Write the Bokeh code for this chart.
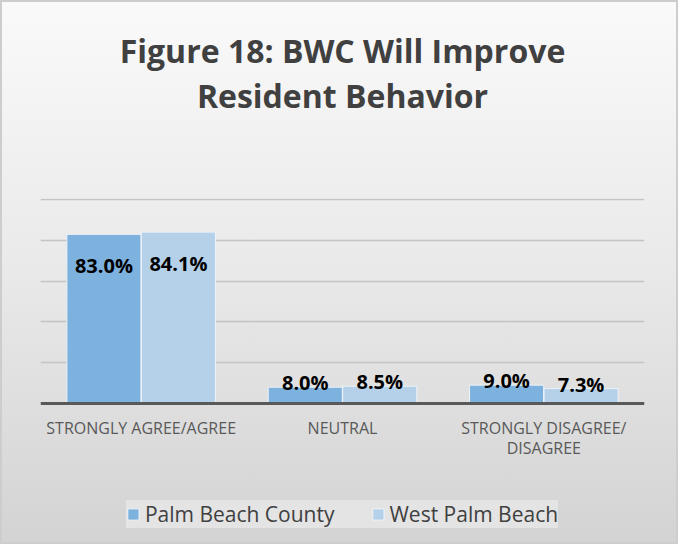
from bokeh.plotting import figure
from bokeh.models import FactorRange, Range1d, ColumnDataSource, FixedTicker, Legend, LegendItem, Title, Span
from bokeh.transform import dodge
from bokeh.core.properties import value
from bokeh.embed import file_html
from bokeh.resources import INLINE

# ---- data ----
categories = ["STRONGLY AGREE/AGREE", "NEUTRAL", "STRONGLY DISAGREE/\nDISAGREE"]
series_names = ["Palm Beach County", "West Palm Beach"]
palm_beach_county = [83.0, 8.0, 9.0]
west_palm_beach = [84.1, 8.5, 7.3]
y_ticks = [20, 40, 60, 80, 100]
title_lines = ["Figure 18: BWC Will Improve", "Resident Behavior"]

# ---- style / layout ----
colors = ["#7db1de", "#b5d1ea"]
offsets = [-0.185, 0.185]
bar_width = 0.368
FONT = "Open Sans"
Y_END = 100.6
PLOT_PX = 205          # pixels used by the 0..Y_END value area
FRAME_H = 346          # frame also holds the category labels and legend below 0
UNIT = PLOT_PX / Y_END
Y_START = -(FRAME_H - PLOT_PX) / UNIT

p = figure(
    x_range=FactorRange(*categories),
    y_range=Range1d(Y_START, Y_END),
    frame_width=604, frame_height=FRAME_H, title=None,
    output_backend="svg", toolbar_location=None,
    min_border_left=40, min_border_right=34,
    min_border_top=198, min_border_bottom=0,
)
p.border_fill_alpha = 0
p.background_fill_alpha = 0
p.outline_line_color = None
p.styles = {
    "background-image": "linear-gradient(to bottom, #fafafa 0%, #e9e9e9 50%, #d3d3d3 100%)",
    "box-shadow": "inset 0 0 0 2px #cdcdcd",
}

# titles: spacer closest to the frame, then line 2, then line 1
p.add_layout(Title(text=" ", text_font_size="63px"), "above")
for line in reversed(title_lines):
    p.add_layout(Title(text=line, align="center", text_font=FONT, text_font_style="bold",
                       text_font_size="32px", text_color="#404040", standoff=0), "above")

p.yaxis.visible = False
p.xaxis.visible = False
p.xgrid.grid_line_color = None
p.ygrid.ticker = FixedTicker(ticks=y_ticks)
p.ygrid.grid_line_color = "#c4c4c4"
p.ygrid.grid_line_width = 1.5

items = []
for name, vals, col, off in zip(series_names, [palm_beach_county, west_palm_beach], colors, offsets):
    label_y = [v - 31 / UNIT if v > 50 else v + 4.5 / UNIT for v in vals]
    src = ColumnDataSource(dict(
        cat=categories, val=vals, label_y=label_y,
        txt=[f"{v:.1f}%" for v in vals],
    ))
    r = p.vbar(x=dodge("cat", off, range=p.x_range), top="val", bottom=0, width=bar_width,
               source=src, fill_color=col, line_color="#eef3f8", line_width=1)
    p.text(x=dodge("cat", off, range=p.x_range), y="label_y", text="txt", source=src,
           text_font=value(FONT), text_font_style="bold", text_font_size="20px",
           text_color="#000000", text_align="center", text_baseline="middle")
    items.append(LegendItem(label=name, renderers=[r]))

# category axis: baseline and labels
p.add_layout(Span(location=0, dimension="width", line_color="#595959", line_width=3))
cat_src = ColumnDataSource(dict(cat=categories, y=[-13 / UNIT] * len(categories)))
p.text(x="cat", y="y", text="cat", source=cat_src,
       text_font=value(FONT), text_font_size="16px", text_color="#595959",
       text_align="center", text_baseline="top", text_line_height=0.92)

legend = Legend(
    items=items, orientation="horizontal", location="bottom_center",
    glyph_width=14, glyph_height=14, label_standoff=5, spacing=36,
    padding=22, margin=16,
    label_text_font=FONT, label_text_font_size="21px", label_text_color="#404040",
    background_fill_color="#e4e4e4", background_fill_alpha=1,
    border_line_color=None,
)
p.add_layout(legend)

open("out.html", "w").write(file_html(p, INLINE))
